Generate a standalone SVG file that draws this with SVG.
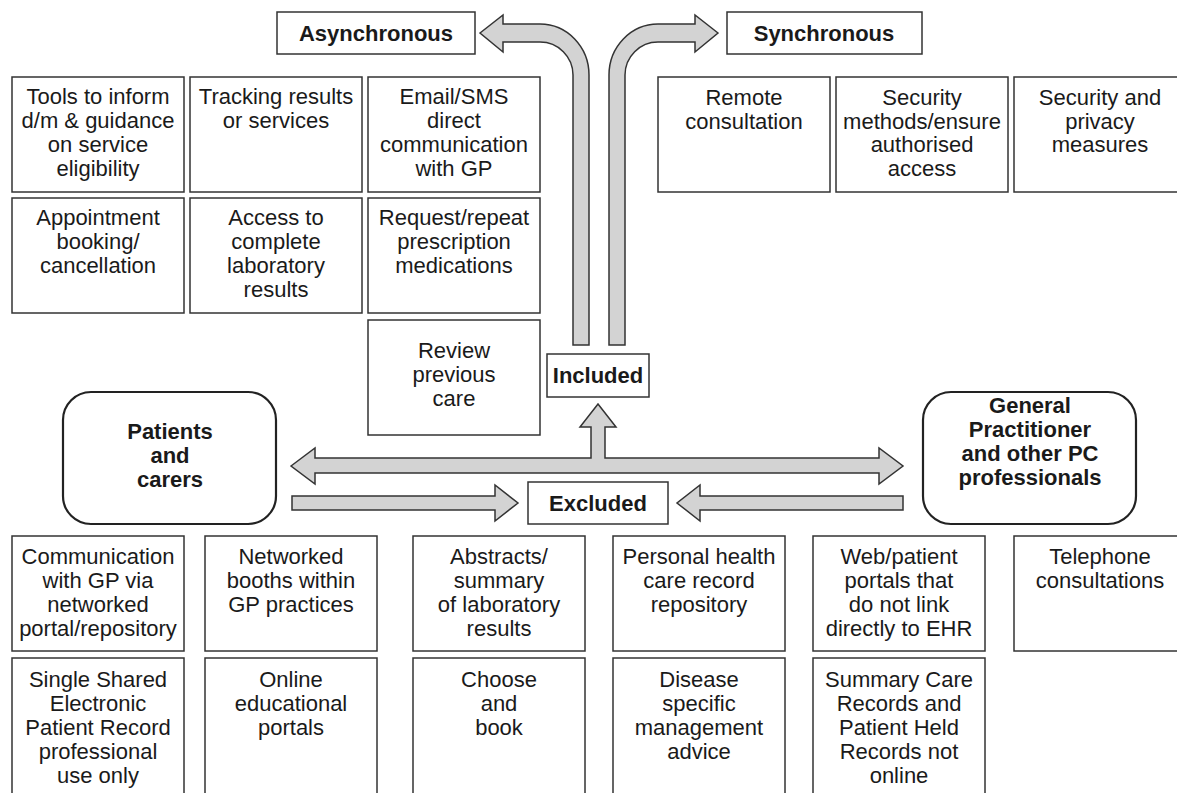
<svg xmlns="http://www.w3.org/2000/svg" width="1177" height="793" viewBox="0 0 1177 793">
<style>
text{font-family:"Liberation Sans",Arial,sans-serif;font-size:22px;fill:#1a1a1a;text-anchor:middle}
.b{font-weight:bold}
.box{fill:#fff;stroke:#333;stroke-width:1.5}
.rbox{fill:#fff;stroke:#222;stroke-width:2.2}
.arr{fill:#d3d3d3;stroke:#333;stroke-width:1.5;stroke-linejoin:miter}
</style>
<rect width="1177" height="793" fill="#fff"/>
<g id="connectors">
<path class="arr" d="M480,33 L503,15 L503,24 L540,24 A49,51 0 0 1 589,75 L589,345 L573,345 L573,75 A33,33 0 0 0 540,42 L503,42 L503,52 Z"/>
<path class="arr" d="M718,33 L695,15 L695,24 L658,24 A49,51 0 0 0 609,75 L609,345 L625,345 L625,75 A33,33 0 0 1 658,42 L695,42 L695,52 Z"/>
<path class="arr" d="M291,466 L315,448 L315,458 L591,458 L591,427 L580,427 L598,404 L616,427 L605,427 L605,458 L879,458 L879,448 L903,466 L879,484 L879,473 L315,473 L315,484 Z"/>
<path class="arr" d="M292,496 L495,496 L495,485 L518,503 L495,521 L495,510 L292,510 Z"/>
<path class="arr" d="M903,496 L700,496 L700,485 L677,503 L700,521 L700,510 L903,510 Z"/>
</g>
<g id="asynchronous"><rect class="box" x="277" y="12" width="198" height="42"/><text class="b" x="376" y="41">Asynchronous</text></g>
<g id="synchronous"><rect class="box" x="727" y="12" width="195" height="42"/><text class="b" x="824" y="41">Synchronous</text></g>
<g id="included"><rect class="box" x="547" y="354" width="102" height="43"/><text class="b" x="598" y="383">Included</text></g>
<g id="excluded"><rect class="box" x="528" y="482" width="140" height="42"/><text class="b" x="598" y="511">Excluded</text></g>
<g id="patients"><rect class="rbox" x="63" y="392" width="213" height="132" rx="28"/><text class="b" x="170" y="439">Patients<tspan x="170" dy="24">and</tspan><tspan x="170" dy="24">carers</tspan></text></g>
<g id="gp"><rect class="rbox" x="923" y="392" width="213" height="132" rx="28"/><text class="b" x="1030" y="413">General<tspan x="1030" dy="24">Practitioner</tspan><tspan x="1030" dy="23.5">and other PC</tspan><tspan x="1030" dy="24">professionals</tspan></text></g>
<g id="tools"><rect class="box" x="12" y="77" width="172" height="115"/><text x="98" y="104">Tools to inform<tspan x="98" dy="24">d/m &amp; guidance</tspan><tspan x="98" dy="24">on service</tspan><tspan x="98" dy="24">eligibility</tspan></text></g>
<g id="tracking"><rect class="box" x="190" y="77" width="172" height="115"/><text x="276" y="104">Tracking results<tspan x="276" dy="24">or services</tspan></text></g>
<g id="email"><rect class="box" x="368" y="77" width="172" height="115"/><text x="454" y="104">Email/SMS<tspan x="454" dy="24">direct</tspan><tspan x="454" dy="24">communication</tspan><tspan x="454" dy="24">with GP</tspan></text></g>
<g id="appointment"><rect class="box" x="12" y="198" width="172" height="115"/><text x="98" y="225">Appointment<tspan x="98" dy="24">booking/</tspan><tspan x="98" dy="24">cancellation</tspan></text></g>
<g id="access"><rect class="box" x="190" y="198" width="172" height="115"/><text x="276" y="225">Access to<tspan x="276" dy="24">complete</tspan><tspan x="276" dy="24">laboratory</tspan><tspan x="276" dy="24">results</tspan></text></g>
<g id="request"><rect class="box" x="368" y="198" width="172" height="115"/><text x="454" y="225">Request/repeat<tspan x="454" dy="24">prescription</tspan><tspan x="454" dy="24">medications</tspan></text></g>
<g id="review"><rect class="box" x="368" y="320" width="172" height="115"/><text x="454" y="358">Review<tspan x="454" dy="24">previous</tspan><tspan x="454" dy="24">care</tspan></text></g>
<g id="remote"><rect class="box" x="658" y="77" width="172" height="115"/><text x="744" y="105">Remote<tspan x="744" dy="23.5">consultation</tspan></text></g>
<g id="secmethods"><rect class="box" x="836" y="77" width="172" height="115"/><text x="922" y="105">Security<tspan x="922" dy="23.5">methods/ensure</tspan><tspan x="922" dy="23.5">authorised</tspan><tspan x="922" dy="23.5">access</tspan></text></g>
<g id="secprivacy"><rect class="box" x="1014" y="77" width="172" height="115"/><text x="1100" y="105">Security and<tspan x="1100" dy="23.5">privacy</tspan><tspan x="1100" dy="23.5">measures</tspan></text></g>
<g id="communication"><rect class="box" x="12" y="536" width="172" height="115"/><text x="98" y="564">Communication<tspan x="98" dy="24">with GP via</tspan><tspan x="98" dy="24">networked</tspan><tspan x="98" dy="24">portal/repository</tspan></text></g>
<g id="booths"><rect class="box" x="205" y="536" width="172" height="115"/><text x="291" y="564">Networked<tspan x="291" dy="24">booths within</tspan><tspan x="291" dy="24">GP practices</tspan></text></g>
<g id="abstracts"><rect class="box" x="413" y="536" width="172" height="115"/><text x="499" y="564">Abstracts/<tspan x="499" dy="24">summary</tspan><tspan x="499" dy="24">of laboratory</tspan><tspan x="499" dy="24">results</tspan></text></g>
<g id="personal"><rect class="box" x="613" y="536" width="172" height="115"/><text x="699" y="564">Personal health<tspan x="699" dy="24">care record</tspan><tspan x="699" dy="24">repository</tspan></text></g>
<g id="web"><rect class="box" x="813" y="536" width="172" height="115"/><text x="899" y="564">Web/patient<tspan x="899" dy="24">portals that</tspan><tspan x="899" dy="24">do not link</tspan><tspan x="899" dy="24">directly to EHR</tspan></text></g>
<g id="telephone"><rect class="box" x="1014" y="536" width="172" height="115"/><text x="1100" y="564">Telephone<tspan x="1100" dy="24">consultations</tspan></text></g>
<g id="single"><rect class="box" x="12" y="658" width="172" height="150"/><text x="98" y="687">Single Shared<tspan x="98" dy="24">Electronic</tspan><tspan x="98" dy="24">Patient Record</tspan><tspan x="98" dy="24">professional</tspan><tspan x="98" dy="24">use only</tspan></text></g>
<g id="online"><rect class="box" x="205" y="658" width="172" height="150"/><text x="291" y="687">Online<tspan x="291" dy="24">educational</tspan><tspan x="291" dy="24">portals</tspan></text></g>
<g id="choose"><rect class="box" x="413" y="658" width="172" height="150"/><text x="499" y="687">Choose<tspan x="499" dy="24">and</tspan><tspan x="499" dy="24">book</tspan></text></g>
<g id="disease"><rect class="box" x="613" y="658" width="172" height="150"/><text x="699" y="687">Disease<tspan x="699" dy="24">specific</tspan><tspan x="699" dy="24">management</tspan><tspan x="699" dy="24">advice</tspan></text></g>
<g id="summary"><rect class="box" x="813" y="658" width="172" height="150"/><text x="899" y="687">Summary Care<tspan x="899" dy="24">Records and</tspan><tspan x="899" dy="24">Patient Held</tspan><tspan x="899" dy="24">Records not</tspan><tspan x="899" dy="24">online</tspan></text></g>
</svg>
